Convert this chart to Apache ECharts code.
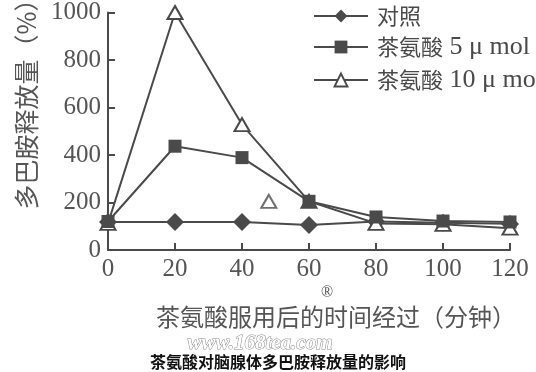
<!DOCTYPE html>
<html>
<head>
<meta charset="utf-8">
<script src="https://cdn.jsdelivr.net/npm/echarts@6/dist/echarts.min.js"></script>
<style>html,body{margin:0;padding:0;background:#fff;}#c{width:536px;height:372px;}</style>
</head>
<body>
<div id="c"></div>
<script>
const times = [0, 20, 40, 60, 80, 100, 120];
const control = [118, 118, 118, 105, 120, 115, 110];
const theanine5 = [120, 437, 389, 205, 139, 122, 118];
const theanine10 = [112, 1000, 528, 205, 112, 108, 92];
const strayPoint = [[48, 205]];
const seriesNames = ['对照', '茶氨酸 5 μ mol', '茶氨酸 10 μ mol'];
const yTicks = [0, 200, 400, 600, 800, 1000];
const xName = '茶氨酸服用后的时间经过（分钟）';
const yName = '多巴胺释放量（%）';
const caption = '茶氨酸对脑腺体多巴胺释放量的影响';
const watermark = 'www.168tea.com';

const ink = '#4a4a4a';
const font = '"Liberation Serif", "Noto Sans CJK SC", serif';
const pair = arr => times.map((t, i) => [t, arr[i]]);

const chart = echarts.init(document.getElementById('c'), null, {renderer: 'canvas'});
chart.setOption({
  backgroundColor: '#fff',
  animation: false,
  grid: {left: 108, right: 26, top: 10, bottom: 122},
  legend: {
    data: seriesNames,
    orient: 'vertical',
    left: 308, top: 0,
    itemWidth: 54, itemHeight: 16, itemGap: 7,
    formatter: name => {
      const i = name.indexOf(' ');
      return i < 0 ? '{cn|' + name + '}' : '{cn|' + name.slice(0, i) + '}{en| ' + name.slice(i + 1) + '}';
    },
    textStyle: {
      color: ink, padding: [0, 0, 0, 4],
      rich: {
        cn: {fontFamily: '"Noto Sans CJK SC", serif', fontSize: 22, color: ink, lineHeight: 23},
        en: {fontFamily: '"Liberation Serif", serif', fontSize: 26, color: ink, lineHeight: 23}
      }
    }
  },
  xAxis: {
    type: 'value', min: 0, max: 120, interval: 20,
    axisLine: {lineStyle: {color: ink, width: 2}},
    axisTick: {inside: true, length: 7, lineStyle: {color: ink, width: 2}},
    axisLabel: {fontFamily: font, fontSize: 25, color: '#555', margin: 7},
    splitLine: {show: false}
  },
  yAxis: {
    type: 'value', min: 0, max: 1000, interval: 200,
    axisLine: {show: true, lineStyle: {color: ink, width: 2}},
    axisTick: {show: true, inside: true, length: 7, lineStyle: {color: ink, width: 2}},
    axisLabel: {fontFamily: font, fontSize: 25, color: '#555', margin: 7,
      formatter: v => yTicks.includes(v) ? String(v) : ''},
    splitLine: {show: false}
  },
  series: [
    {
      name: seriesNames[0], type: 'line', data: pair(control),
      symbol: 'diamond', symbolSize: [18, 18],
      lineStyle: {color: ink, width: 2},
      itemStyle: {color: ink}, z: 3
    },
    {
      name: seriesNames[2], type: 'line', data: pair(theanine10),
      symbol: 'triangle', symbolSize: [15, 13],
      lineStyle: {color: ink, width: 2},
      itemStyle: {color: '#fff', borderColor: ink, borderWidth: 2}, z: 4
    },
    {
      name: seriesNames[1], type: 'line', data: pair(theanine5),
      symbol: 'rect', symbolSize: 13,
      lineStyle: {color: ink, width: 2},
      itemStyle: {color: ink}, z: 5
    },
    {
      name: 'stray', type: 'scatter', data: strayPoint,
      symbol: 'triangle', symbolSize: [15, 13],
      itemStyle: {color: '#fff', borderColor: ink, borderWidth: 2}, z: 5
    }
  ],
  graphic: [
    {type: 'text', x: 26, y: 98, rotation: Math.PI / 2,
      style: {text: yName, font: '25px "Noto Sans CJK SC", serif', fill: '#555',
        textAlign: 'center', textVerticalAlign: 'middle'}},
    {type: 'text', x: 336, y: 317,
      style: {text: xName, font: '24px "Noto Sans CJK SC", serif', fill: '#555',
        textAlign: 'center', textVerticalAlign: 'middle'}},
    {type: 'text', x: 327, y: 293,
      style: {text: '®', font: '16px "Liberation Serif", serif', fill: '#555',
        textAlign: 'center', textVerticalAlign: 'middle'}},
    {type: 'text', x: 260, y: 344,
      style: {text: watermark, font: 'italic bold 21px "Liberation Serif", serif', fill: '#fff',
        stroke: '#8a8a8a', lineWidth: 1, textAlign: 'center', textVerticalAlign: 'middle'}},
    {type: 'text', x: 278, y: 362,
      style: {text: caption, font: 'bold 16px "Noto Sans CJK SC", sans-serif', fill: '#111',
        textAlign: 'center', textVerticalAlign: 'middle'}}
  ]
});
</script>
</body>
</html>
